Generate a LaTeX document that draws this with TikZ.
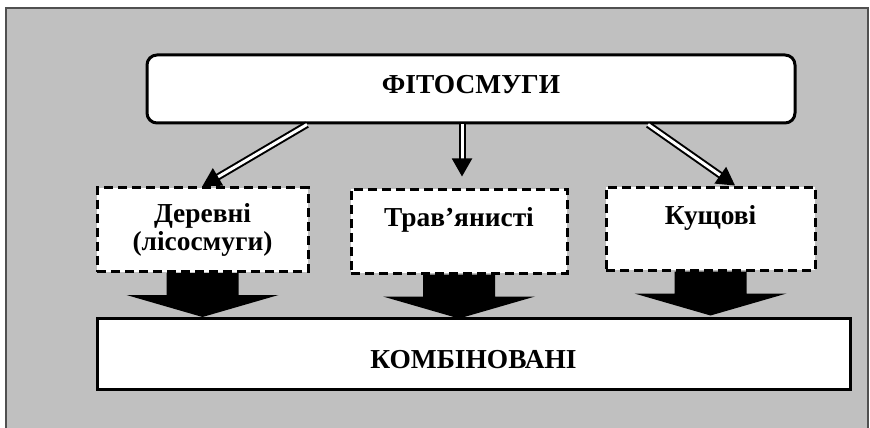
\documentclass[tikz,border=0pt]{standalone}
\usepackage{fontspec}
\setmainfont{Liberation Serif}
\usepackage{tikz}
\usetikzlibrary{arrows.meta,positioning,calc}
\definecolor{FieldGray}{HTML}{C0C0C0}
\definecolor{FrameGray}{HTML}{505050}

\begin{document}
\begin{tikzpicture}[x=0.5pt,y=-0.5pt]
\tikzset{kind/.style={draw,fill=white,line width=1.5pt,font=\fontsize{13.7}{14}\selectfont\bfseries,align=center,inner sep=0pt},
  rootbox/.style={kind,rounded corners=5pt,minimum width=324pt,minimum height=34pt},
  subbox/.style={kind,dash pattern=on 4.5pt off 2.5pt,minimum height=42pt},
  mixbox/.style={kind,minimum width=376.5pt,minimum height=35.5pt},
  dbl/.style={double,double distance=1.5pt,line width=1pt,-{Triangle[length=9pt,width=10pt]}}}
\useasboundingbox (0,0) rectangle (870,427);
% shaded field
\filldraw[fill=FieldGray,draw=FrameGray,line width=0.9pt] (6,8) rectangle (868,432);
\node[rootbox,text depth=4.5pt] (top) at (471,89) {ФІТОСМУГИ};
\node[subbox,minimum width=105.5pt] (d1) at (202.5,229.5) {Деревні\\(лісосмуги)};
\node[subbox,minimum width=108pt] (d2) at (459,231) {Трав’янисті\\\mbox{}};
\node[subbox,minimum width=104.5pt,minimum height=41.5pt] (d3) at (710.5,228.5) {Кущові\\\mbox{}};
\node[mixbox,text height=15pt] (mix) at (473.5,353.5) {КОМБІНОВАНІ};
\draw[dbl] ([xshift=-82pt]top.south) -- (d1.north);
\draw[dbl] ([xshift=-4.5pt]top.south) -- ($(d2.north)+(3,-11)$);
\draw[dbl] ([xshift=88.5pt]top.south) -- ([xshift=12.25pt]d3.north);
% block arrows into the combined box
\foreach \b in {d1,d2,d3}
  \fill (\b.south) ++(-36,0) -- ++(0,22) -- ++(-40,0) -- ++(76,22) -- ++(76,-22) -- ++(-40,0) -- ++(0,-22) -- cycle;
\end{tikzpicture}
\end{document}
